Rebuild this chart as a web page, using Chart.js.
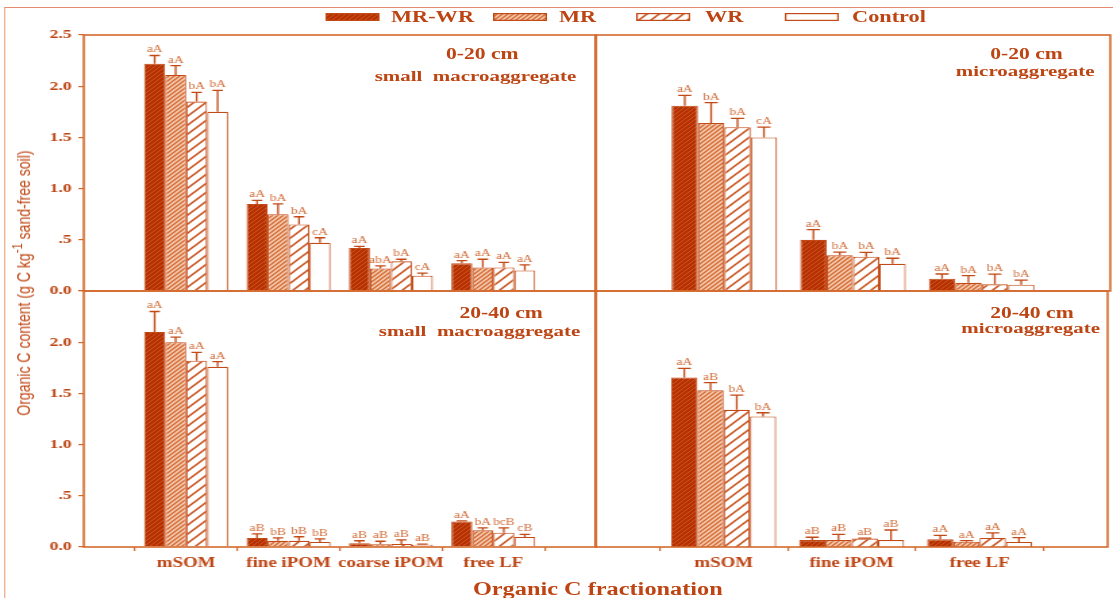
<!DOCTYPE html>
<html><head><meta charset="utf-8">
<script src="https://cdn.jsdelivr.net/npm/chart.js@4.4.1/dist/chart.umd.min.js"></script>
<style>
html,body{margin:0;padding:0;background:#fff;overflow:hidden;width:1113px;height:598px;}
#wrap{position:absolute;left:0;top:0;width:824px;height:598px;transform:scaleX(1.35073);transform-origin:0 0;}
canvas{position:absolute;}
.t{position:absolute;font-family:"Liberation Serif","Times New Roman",serif;font-weight:bold;color:#bd4514;white-space:pre;line-height:1;}
.c{transform:translate(-50%,-50%);}
</style></head><body>
<div id="wrap">
  <div style="position:absolute;left:3px;top:7px;width:821px;height:600px;border-left:1.5px solid #eeb090;border-top:1px solid #e58a70;"></div>
  <canvas id="tl" width="445" height="284" style="left:0;top:21px"></canvas>
  <canvas id="tr" width="387" height="284" style="left:437px;top:21px"></canvas>
  <canvas id="bl" width="445" height="321" style="left:0;top:277px"></canvas>
  <canvas id="br" width="387" height="321" style="left:437px;top:277px"></canvas>
  <div id="legend"></div>
  <div class="t c" style="left:357px;top:54px;font-size:16px">0-20 cm</div>
  <div class="t c" style="left:352px;top:76px;font-size:15.5px">small  macroaggregate</div>
  <div class="t c" style="left:760px;top:54px;font-size:16px">0-20 cm</div>
  <div class="t c" style="left:759px;top:71px;font-size:15.5px">microaggregate</div>
  <div class="t c" style="left:371px;top:313px;font-size:16px">20-40 cm</div>
  <div class="t c" style="left:355px;top:331px;font-size:15.5px">small  macroaggregate</div>
  <div class="t c" style="left:764px;top:313px;font-size:16px">20-40 cm</div>
  <div class="t c" style="left:763px;top:328px;font-size:15.5px">microaggregate</div>
  <div class="t" style="left:442.6px;top:580px;font-size:18px;transform:translateX(-50%)">Organic C fractionation</div>
  <div id="ytitle" style="position:absolute;left:17px;top:283px;transform:translate(-50%,-50%) rotate(-90deg);font-family:'Liberation Sans Narrow','Arial Narrow','Liberation Sans',Arial,sans-serif;font-size:14px;color:#c04a18;white-space:nowrap;line-height:1;">Organic C content (g C kg<sup style="font-size:0.8em;line-height:0">-1</sup> sand-free soil)</div>
</div>
<script>
// ---------- data ----------
const seriesNames = ['MR-WR', 'MR', 'WR', 'Control'];
const fractionsMacro = ['mSOM', 'fine iPOM', 'coarse iPOM', 'free LF'];
const fractionsMicro = ['mSOM', 'fine iPOM', 'free LF'];
const yTickValues = [0, 0.5, 1.0, 1.5, 2.0, 2.5];
const yTickLabelsTop = ['0.0', '.5', '1.0', '1.5', '2.0', '2.5'];
const yTickLabelsBottom = ['0.0', '.5', '1.0', '1.5', '2.0', ''];

// 0-20 cm, small macroaggregate
const macroTop_MRWR = [2.22, 0.85, 0.42, 0.27];
const macroTop_MR = [2.11, 0.75, 0.22, 0.23];
const macroTop_WR = [1.85, 0.65, 0.29, 0.23];
const macroTop_Control = [1.75, 0.47, 0.15, 0.20];
const macroTopErr_MRWR = [0.08, 0.035, 0.015, 0.027];
const macroTopErr_MR = [0.09, 0.10, 0.025, 0.08];
const macroTopErr_WR = [0.09, 0.075, 0.02, 0.05];
const macroTopErr_Control = [0.21, 0.05, 0.025, 0.055];
const macroTopLet_MRWR = ['aA', 'aA', 'aA', 'aA'];
const macroTopLet_MR = ['aA', 'bA', 'abA', 'aA'];
const macroTopLet_WR = ['bA', 'bA', 'bA', 'aA'];
const macroTopLet_Control = ['bA', 'cA', 'cA', 'aA'];

// 0-20 cm, microaggregate
const microTop_MRWR = [1.81, 0.50, 0.12];
const microTop_MR = [1.64, 0.35, 0.08];
const microTop_WR = [1.60, 0.335, 0.065];
const microTop_Control = [1.50, 0.265, 0.062];
const microTopErr_MRWR = [0.10, 0.10, 0.046];
const microTopErr_MR = [0.20, 0.03, 0.07];
const microTopErr_WR = [0.085, 0.043, 0.10];
const microTopErr_Control = [0.10, 0.055, 0.045];
const microTopLet_MRWR = ['aA', 'aA', 'aA'];
const microTopLet_MR = ['bA', 'bA', 'bA'];
const microTopLet_WR = ['bA', 'bA', 'bA'];
const microTopLet_Control = ['cA', 'bA', 'bA'];

// 20-40 cm, small macroaggregate
const macroBot_MRWR = [2.10, 0.088, 0.036, 0.25];
const macroBot_MR = [2.00, 0.06, 0.026, 0.163];
const macroBot_WR = [1.82, 0.06, 0.03, 0.14];
const macroBot_Control = [1.76, 0.05, 0.023, 0.098];
const macroBotErr_MRWR = [0.20, 0.04, 0.025, 0.006];
const macroBotErr_MR = [0.05, 0.03, 0.03, 0.023];
const macroBotErr_WR = [0.08, 0.04, 0.04, 0.046];
const macroBotErr_Control = [0.05, 0.03, 0.006, 0.026];
const macroBotLet_MRWR = ['aA', 'aB', 'aB', 'aA'];
const macroBotLet_MR = ['aA', 'bB', 'aB', 'bA'];
const macroBotLet_WR = ['aA', 'bB', 'aB', 'bcB'];
const macroBotLet_Control = ['aA', 'bB', 'aB', 'cB'];

// 20-40 cm, microaggregate
const microBot_MRWR = [1.656, 0.068, 0.075];
const microBot_MR = [1.53, 0.068, 0.052];
const microBot_WR = [1.34, 0.082, 0.088];
const microBot_Control = [1.275, 0.068, 0.049];
const microBotErr_MRWR = [0.088, 0.027, 0.039];
const microBotErr_MR = [0.075, 0.056, 0.01];
const microBotErr_WR = [0.143, 0.005, 0.049];
const microBotErr_Control = [0.036, 0.098, 0.043];
const microBotLet_MRWR = ['aA', 'aB', 'aA'];
const microBotLet_MR = ['aB', 'aB', 'aA'];
const microBotLet_WR = ['bA', 'aB', 'aA'];
const microBotLet_Control = ['bA', 'aB', 'aA'];

// ---------- styles ----------
const frameColor = '#d4692c';
const barBorder = '#c24a16';
const textColor = '#bd4514';
const letterColor = '#d06c38';
const serif = '"Liberation Serif","Times New Roman",serif';

function hatch(bg, line, size, lw) {
  const c = document.createElement('canvas');
  c.width = size; c.height = size;
  const g = c.getContext('2d');
  g.fillStyle = bg; g.fillRect(0, 0, size, size);
  g.strokeStyle = line; g.lineWidth = lw;
  g.beginPath();
  g.moveTo(-1, size + 1); g.lineTo(size + 1, -1);
  g.moveTo(-1, 1); g.lineTo(1, -1);
  g.moveTo(size - 1, size + 1); g.lineTo(size + 1, size - 1);
  g.stroke();
  return g.createPattern(c, 'repeat');
}
const fills = [
  hatch('#b63000', '#cb5526', 4, 1),
  hatch('#f6d6c0', '#d66a32', 4, 1.5),
  hatch('#ffffff', '#c64e18', 9, 1.5),
  '#ffffff'
];

// ---------- plugins ----------
const errorBarPlugin = {
  id: 'errorBars',
  afterDatasetsDraw(chart) {
    const ctx = chart.ctx, ys = chart.scales.y;
    chart.data.datasets.forEach((ds, di) => {
      const meta = chart.getDatasetMeta(di);
      meta.data.forEach((bar, i) => {
        const v = ds.data[i];
        if (v === null || v === undefined) return;
        const yTop = ys.getPixelForValue(v + ds.errors[i]);
        const yBar = ys.getPixelForValue(v);
        const cap = bar.width * 0.5;
        ctx.save();
        ctx.strokeStyle = barBorder; ctx.lineWidth = 1.3;
        ctx.beginPath();
        ctx.moveTo(bar.x, yBar); ctx.lineTo(bar.x, yTop);
        ctx.moveTo(bar.x - cap / 2, yTop); ctx.lineTo(bar.x + cap / 2, yTop);
        ctx.stroke();
        ctx.fillStyle = letterColor;
        ctx.font = '10px ' + serif;
        ctx.textAlign = 'center'; ctx.textBaseline = 'alphabetic';
        ctx.fillText(ds.letters[i], bar.x, yTop - 3);
        ctx.restore();
      });
    });
  }
};
const framePlugin = {
  id: 'frame',
  afterDraw(chart) {
    const a = chart.chartArea, ctx = chart.ctx;
    ctx.save();
    ctx.strokeStyle = frameColor; ctx.lineWidth = 1.6;
    ctx.strokeRect(a.left, a.top, a.right - a.left, a.bottom - a.top);
    ctx.restore();
  }
};

function makePanel(id, cats, vals, errs, lets, o) {
  const labels = ['', ...cats, ''];
  const datasets = seriesNames.map((name, i) => ({
    label: name,
    data: [null, ...vals[i], null],
    errors: [null, ...errs[i], null],
    letters: ['', ...lets[i], ''],
    backgroundColor: fills[i],
    borderColor: barBorder,
    borderWidth: 1.1,
    categoryPercentage: 0.82,
    barPercentage: 1.0
  }));
  return new Chart(document.getElementById(id), {
    type: 'bar',
    data: { labels, datasets },
    options: {
      responsive: false, animation: false, devicePixelRatio: 1,
      layout: { padding: o.padding },
      plugins: { legend: { display: false }, tooltip: { enabled: false } },
      scales: {
        x: {
          display: o.showX, offset: false,
          grid: { offset: true, drawOnChartArea: false, drawTicks: true, tickLength: 4, color: frameColor, lineWidth: 1.2 },
          border: { display: false },
          ticks: { autoSkip: false, maxRotation: 0, minRotation: 0, padding: 4, color: textColor, font: { family: serif, size: 14, weight: 'bold' } },
          afterFit: s => { s.height = o.showX ? o.xHeight : 0; }
        },
        y: {
          display: o.showY, min: 0, max: 2.5,
          grid: { drawOnChartArea: false, drawTicks: true, tickLength: 4, color: frameColor, lineWidth: 1.2 },
          border: { display: false },
          ticks: {
            stepSize: 0.5, padding: 5, color: textColor,
            font: { family: serif, size: 13, weight: 'bold' },
            callback: v => { const k = yTickValues.findIndex(t => Math.abs(t - v) < 1e-9); return k < 0 ? '' : o.yLabels[k]; }
          },
          afterFit: s => { s.width = o.showY ? 62 : 0; }
        }
      }
    },
    plugins: [errorBarPlugin, framePlugin]
  });
}

makePanel('tl', fractionsMacro,
  [macroTop_MRWR, macroTop_MR, macroTop_WR, macroTop_Control],
  [macroTopErr_MRWR, macroTopErr_MR, macroTopErr_WR, macroTopErr_Control],
  [macroTopLet_MRWR, macroTopLet_MR, macroTopLet_WR, macroTopLet_Control],
  { showX: false, showY: true, xHeight: 0, yLabels: yTickLabelsTop, padding: { top: 14, bottom: 14, left: 0, right: 4 } });
makePanel('tr', fractionsMicro,
  [microTop_MRWR, microTop_MR, microTop_WR, microTop_Control],
  [microTopErr_MRWR, microTopErr_MR, microTopErr_WR, microTopErr_Control],
  [microTopLet_MRWR, microTopLet_MR, microTopLet_WR, microTopLet_Control],
  { showX: false, showY: false, xHeight: 0, yLabels: yTickLabelsTop, padding: { top: 14, bottom: 14, left: 4, right: 2 } });
makePanel('bl', fractionsMacro,
  [macroBot_MRWR, macroBot_MR, macroBot_WR, macroBot_Control],
  [macroBotErr_MRWR, macroBotErr_MR, macroBotErr_WR, macroBotErr_Control],
  [macroBotLet_MRWR, macroBotLet_MR, macroBotLet_WR, macroBotLet_Control],
  { showX: true, showY: true, xHeight: 51, yLabels: yTickLabelsBottom, padding: { top: 14, bottom: 0, left: 0, right: 4 } });
makePanel('br', fractionsMicro,
  [microBot_MRWR, microBot_MR, microBot_WR, microBot_Control],
  [microBotErr_MRWR, microBotErr_MR, microBotErr_WR, microBotErr_Control],
  [microBotLet_MRWR, microBotLet_MR, microBotLet_WR, microBotLet_Control],
  { showX: true, showY: false, xHeight: 51, yLabels: yTickLabelsBottom, padding: { top: 14, bottom: 0, left: 4, right: 2 } });

// ---------- legend ----------
const legendBoxX = [240.6, 364.6, 471.4, 581];
const legendTextX = [289.5, 413.9, 522, 630.8];
const leg = document.getElementById('legend');
seriesNames.forEach((name, i) => {
  const c = document.createElement('canvas');
  c.width = 40; c.height = 8;
  c.style.left = legendBoxX[i] + 'px'; c.style.top = '12.5px';
  const g = c.getContext('2d');
  g.fillStyle = fills[i]; g.fillRect(0, 0, 40, 8);
  g.strokeStyle = barBorder; g.lineWidth = 1.2; g.strokeRect(0.6, 0.6, 38.8, 6.8);
  leg.appendChild(c);
  const t = document.createElement('div');
  t.className = 't';
  t.style.left = legendTextX[i] + 'px'; t.style.top = '16.5px'; t.style.fontSize = '16.5px';
  t.style.transform = 'translateY(-50%)';
  t.textContent = name;
  leg.appendChild(t);
});

// fit y-axis title length
const yt = document.getElementById('ytitle');
const w = yt.offsetWidth;
if (w > 0) yt.style.fontSize = (14 * 265 / w) + 'px';
</script>
</body></html>
